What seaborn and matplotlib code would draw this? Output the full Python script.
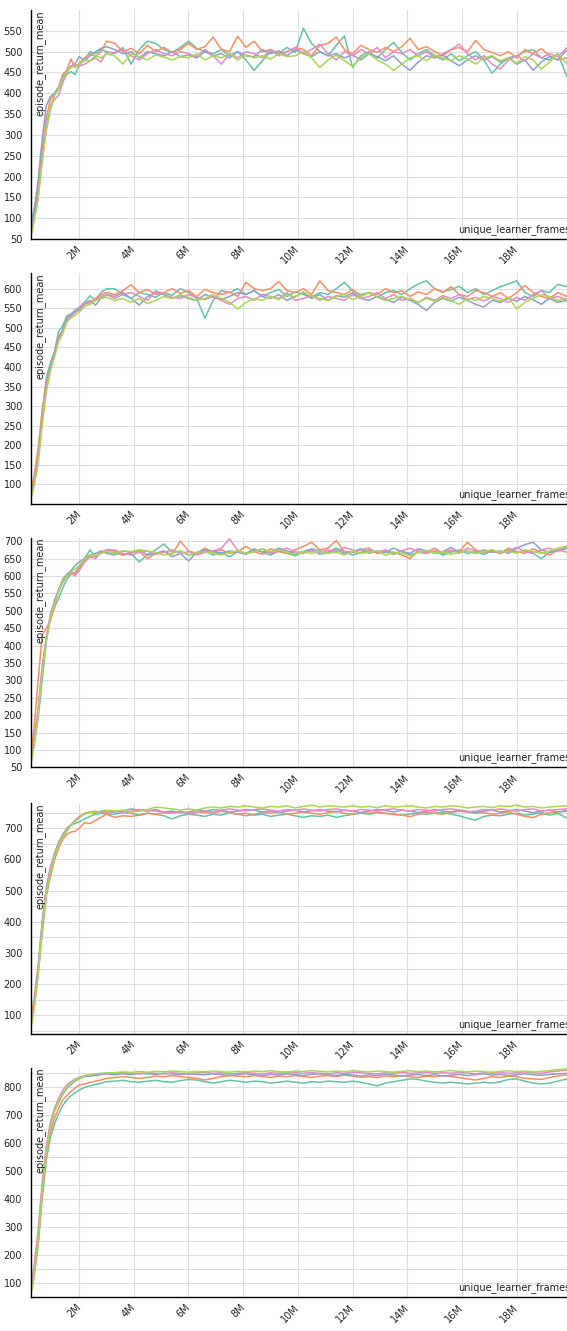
import numpy as np
import pandas as pd
import matplotlib
matplotlib.use("Agg")
import matplotlib.pyplot as plt
from matplotlib.ticker import FixedLocator, FuncFormatter
import seaborn as sns

# frames (in millions) shared by every run
x_millions = [0.23, 0.35, 0.5, 0.65, 0.8, 0.95, 1.1, 1.25, 1.4, 1.55, 1.7, 1.85, 2.0, 2.2, 2.4, 2.6, 2.8, 3.0,
              3.3, 3.6, 3.9, 4.2, 4.5, 4.8, 5.1, 5.4, 5.7, 6.0, 6.3, 6.6, 6.9, 7.2, 7.5, 7.8, 8.1, 8.4,
              8.7, 9.0, 9.3, 9.6, 9.9, 10.2, 10.5, 10.8, 11.1, 11.4, 11.7, 12.0, 12.3, 12.6, 12.9, 13.2,
              13.5, 13.8, 14.1, 14.4, 14.7, 15.0, 15.3, 15.6, 15.9, 16.2, 16.5, 16.8, 17.1, 17.4, 17.7,
              18.0, 18.3, 18.6, 18.9, 19.2, 19.5, 19.85]

# panel 1
p1_r1 = [80, 120, 160, 240, 310, 360, 395, 410, 430, 445, 452, 445, 468, 480, 500, 495, 505, 500,
         495, 510, 470, 505, 525, 520, 505, 498, 510, 525, 508, 500, 495, 505, 490, 500, 480, 455, 478, 500,
         495, 510, 498, 556, 520, 500, 490, 515, 538, 462, 490, 500, 485, 505, 522, 498, 480, 495, 505, 490,
         480, 495, 478, 490, 500, 480, 448, 470, 485, 490, 500, 505, 485, 480, 495, 438]
p1_r2 = [70, 105, 175, 265, 340, 385, 400, 415, 445, 455, 482, 462, 472, 485, 495, 488, 500, 525,
         520, 500, 508, 495, 515, 500, 510, 498, 505, 520, 505, 512, 535, 505, 500, 537, 510, 525, 500, 505,
         495, 500, 510, 505, 490, 515, 520, 535, 505, 495, 515, 505, 498, 510, 500, 512, 532, 505, 512, 500,
         490, 505, 510, 500, 527, 505, 498, 490, 500, 485, 505, 495, 507, 490, 480, 485]
p1_r3 = [65, 115, 190, 290, 370, 392, 400, 412, 440, 452, 465, 470, 488, 478, 490, 500, 508, 512,
         505, 495, 500, 485, 500, 495, 490, 500, 488, 492, 485, 500, 490, 495, 485, 500, 490, 488, 505, 495,
         502, 490, 505, 495, 488, 500, 490, 495, 485, 492, 480, 495, 488, 478, 490, 470, 455, 475, 490, 485,
         492, 478, 466, 480, 490, 480, 488, 475, 485, 470, 480, 455, 475, 488, 480, 505]
p1_r4 = [60, 95, 150, 240, 320, 370, 385, 395, 425, 450, 465, 470, 465, 470, 478, 485, 475, 498,
         498, 505, 490, 480, 495, 505, 495, 490, 500, 495, 488, 505, 490, 470, 495, 485, 500, 495, 485, 505,
         490, 500, 510, 495, 505, 518, 495, 480, 500, 490, 505, 495, 510, 485, 500, 495, 505, 490, 500, 485,
         495, 505, 518, 495, 480, 490, 470, 458, 480, 490, 478, 495, 485, 495, 488, 510]
p1_r5 = [55, 90, 145, 235, 315, 368, 395, 410, 435, 452, 462, 465, 470, 480, 478, 490, 485, 495,
         490, 470, 495, 488, 480, 492, 487, 480, 488, 485, 495, 480, 490, 485, 495, 480, 492, 485, 490, 482,
         495, 488, 490, 500, 485, 462, 480, 492, 478, 465, 485, 495, 480, 470, 455, 470, 485, 490, 478, 492,
         485, 478, 490, 482, 470, 485, 490, 478, 485, 472, 488, 480, 458, 475, 495, 470]

# panel 2
p2_r1 = [75, 110, 175, 280, 372, 410, 440, 490, 505, 530, 535, 545, 552, 565, 582, 570, 590, 600,
         600, 585, 575, 590, 585, 578, 590, 583, 600, 590, 575, 525, 570, 595, 590, 600, 585, 595, 580, 590,
         598, 580, 592, 585, 578, 590, 585, 600, 616, 595, 585, 590, 578, 590, 595, 585, 600, 612, 620, 600,
         592, 598, 606, 590, 600, 585, 595, 605, 612, 620, 590, 580, 595, 590, 611, 605]
p2_r2 = [85, 120, 190, 290, 360, 400, 430, 480, 490, 515, 530, 540, 548, 560, 565, 575, 585, 590,
         585, 595, 610, 590, 598, 585, 590, 600, 588, 595, 580, 598, 590, 585, 592, 580, 616, 600, 595, 600,
         618, 595, 590, 600, 585, 620, 595, 590, 585, 598, 580, 590, 585, 600, 590, 595, 580, 592, 585, 600,
         590, 605, 585, 580, 595, 590, 580, 590, 575, 590, 608, 590, 580, 575, 590, 580]
p2_r3 = [70, 105, 170, 270, 350, 400, 435, 475, 495, 525, 535, 540, 545, 562, 570, 558, 575, 585,
         580, 590, 575, 558, 580, 590, 585, 575, 582, 575, 570, 585, 578, 572, 580, 590, 585, 595, 580, 575,
         585, 570, 580, 590, 575, 585, 570, 582, 578, 590, 575, 570, 580, 572, 565, 578, 570, 560, 544, 565,
         575, 568, 578, 570, 560, 553, 570, 565, 575, 568, 580, 572, 560, 575, 565, 570]
p2_r4 = [65, 100, 160, 265, 345, 395, 430, 470, 490, 520, 530, 538, 550, 565, 560, 570, 580, 585,
         575, 585, 590, 580, 570, 595, 585, 578, 575, 585, 578, 572, 580, 570, 560, 575, 580, 570, 585, 580,
         575, 590, 570, 575, 582, 570, 580, 575, 570, 585, 575, 580, 590, 575, 585, 570, 575, 565, 578, 570,
         582, 575, 585, 572, 578, 568, 580, 575, 565, 578, 570, 585, 595, 575, 580, 572]
p2_r5 = [60, 95, 150, 250, 335, 390, 425, 465, 485, 515, 525, 532, 540, 555, 560, 570, 575, 578,
         570, 575, 565, 575, 562, 570, 580, 575, 585, 578, 570, 575, 585, 575, 565, 548, 565, 575, 570, 580,
         572, 585, 578, 592, 580, 575, 570, 580, 585, 572, 580, 590, 578, 570, 575, 580, 572, 565, 575, 568,
         578, 570, 560, 575, 570, 580, 575, 568, 578, 548, 565, 575, 585, 580, 570, 575]

# panel 3
p3_r1 = [60, 110, 190, 300, 410, 480, 510, 535, 565, 590, 605, 610, 625, 650, 675, 655, 670, 668,
         668, 660, 665, 640, 662, 675, 692, 668, 672, 660, 665, 672, 660, 668, 655, 670, 665, 678, 668, 660,
         672, 665, 658, 670, 675, 662, 668, 680, 670, 660, 668, 675, 665, 670, 662, 672, 660, 668, 665, 672,
         660, 668, 675, 665, 670, 662, 672, 665, 675, 668, 672, 665, 650, 668, 675, 680]
p3_r2 = [80, 160, 300, 430, 450, 470, 510, 560, 585, 600, 612, 605, 620, 645, 655, 660, 665, 675,
         672, 660, 668, 670, 650, 665, 670, 662, 700, 672, 665, 680, 668, 675, 665, 670, 685, 670, 662, 678,
         670, 665, 675, 685, 697, 675, 680, 702, 670, 668, 675, 680, 665, 672, 668, 660, 650, 672, 668, 680,
         665, 672, 670, 697, 675, 668, 672, 665, 680, 670, 665, 678, 668, 660, 675, 668]
p3_r3 = [65, 120, 210, 330, 420, 490, 530, 560, 590, 605, 615, 630, 640, 650, 660, 665, 672, 665,
         660, 672, 668, 675, 660, 665, 672, 655, 665, 643, 668, 675, 670, 665, 672, 668, 662, 675, 670, 668,
         680, 672, 665, 670, 678, 672, 668, 675, 665, 670, 678, 665, 672, 668, 680, 670, 665, 678, 672, 665,
         670, 682, 668, 672, 665, 675, 668, 672, 665, 680, 690, 697, 675, 668, 672, 680]
p3_r4 = [62, 125, 220, 340, 425, 485, 520, 555, 580, 600, 608, 600, 615, 640, 655, 650, 668, 675,
         675, 665, 660, 668, 672, 662, 668, 675, 665, 670, 660, 668, 672, 680, 707, 672, 665, 670, 678, 665,
         672, 680, 670, 665, 672, 668, 675, 670, 682, 675, 665, 672, 668, 675, 665, 672, 680, 670, 665, 672,
         668, 675, 665, 680, 672, 668, 675, 665, 672, 682, 670, 665, 675, 680, 670, 688]
p3_r5 = [55, 115, 200, 320, 415, 478, 520, 555, 585, 600, 612, 620, 630, 648, 662, 660, 665, 670,
         665, 672, 670, 675, 672, 668, 660, 665, 672, 660, 668, 670, 665, 660, 668, 672, 665, 670, 678, 670,
         675, 668, 662, 670, 665, 672, 665, 668, 660, 672, 665, 668, 672, 660, 668, 665, 658, 668, 672, 665,
         670, 662, 668, 672, 665, 670, 675, 668, 672, 665, 675, 670, 665, 672, 680, 685]

# panel 4
p4_r1 = [62, 120, 230, 360, 480, 545, 600, 640, 670, 690, 710, 715, 720, 730, 738, 745, 748, 745,
         745, 750, 748, 742, 748, 745, 740, 730, 740, 745, 742, 738, 745, 742, 750, 745, 748, 742, 745, 738,
         742, 745, 740, 735, 740, 738, 742, 735, 740, 745, 748, 745, 750, 748, 745, 742, 745, 748, 745, 748,
         750, 745, 740, 732, 726, 738, 742, 740, 745, 748, 742, 745, 750, 742, 748, 732]
p4_r2 = [95, 150, 260, 390, 490, 550, 600, 635, 665, 680, 688, 690, 700, 718, 715, 725, 735, 745,
         735, 740, 738, 742, 748, 745, 750, 748, 752, 748, 752, 750, 748, 755, 750, 745, 740, 745, 750, 748,
         752, 745, 748, 752, 748, 745, 750, 755, 748, 745, 750, 748, 752, 748, 745, 742, 737, 745, 750, 748,
         745, 750, 755, 752, 748, 750, 745, 748, 752, 745, 738, 734, 745, 750, 752, 755]
p4_r3 = [65, 130, 250, 400, 510, 575, 620, 655, 680, 700, 710, 722, 735, 745, 752, 748, 755, 752,
         752, 755, 762, 758, 755, 760, 752, 755, 750, 752, 758, 755, 760, 757, 752, 755, 760, 758, 752, 755,
         750, 755, 758, 752, 756, 760, 755, 752, 758, 755, 750, 755, 760, 757, 752, 758, 755, 750, 755, 760,
         755, 752, 758, 755, 750, 755, 758, 752, 755, 760, 755, 750, 755, 758, 752, 756]
p4_r4 = [60, 125, 240, 395, 505, 570, 615, 650, 675, 700, 712, 725, 738, 748, 752, 755, 750, 748,
         755, 750, 755, 760, 758, 755, 752, 748, 755, 745, 750, 755, 752, 758, 762, 758, 755, 760, 762, 758,
         755, 760, 757, 762, 758, 755, 760, 762, 758, 755, 760, 758, 755, 760, 762, 758, 755, 760, 758, 755,
         760, 762, 758, 752, 755, 760, 758, 762, 758, 755, 760, 762, 755, 758, 760, 762]
p4_r5 = [55, 115, 225, 375, 490, 560, 610, 645, 672, 695, 710, 722, 732, 748, 752, 750, 755, 758,
         755, 758, 752, 755, 760, 768, 765, 762, 758, 762, 758, 765, 768, 765, 770, 768, 772, 768, 765, 770,
         768, 772, 765, 770, 774, 768, 772, 770, 768, 772, 768, 770, 766, 772, 768, 770, 772, 768, 765, 770,
         768, 772, 770, 765, 768, 770, 766, 772, 770, 774, 768, 770, 765, 768, 770, 772]

# panel 5
p5_r1 = [62, 120, 230, 400, 540, 620, 670, 705, 735, 755, 770, 780, 790, 800, 805, 810, 815, 820,
         822, 825, 820, 818, 822, 825, 820, 818, 824, 828, 826, 820, 815, 820, 825, 822, 818, 822, 820, 815,
         818, 822, 818, 815, 820, 818, 822, 820, 818, 822, 818, 812, 805, 815, 820, 825, 830, 828, 822, 818,
         815, 818, 815, 812, 815, 818, 815, 820, 828, 830, 822, 815, 812, 815, 822, 830]
p5_r2 = [70, 130, 245, 420, 560, 640, 690, 725, 755, 770, 785, 798, 808, 812, 818, 822, 826, 832,
         835, 838, 835, 832, 835, 840, 838, 842, 838, 835, 832, 826, 832, 838, 842, 840, 838, 842, 838, 835,
         840, 838, 842, 838, 835, 840, 842, 838, 844, 840, 836, 838, 835, 840, 838, 842, 838, 835, 840, 838,
         842, 838, 835, 830, 826, 832, 838, 835, 840, 838, 832, 830, 828, 835, 840, 845]
p5_r3 = [68, 140, 270, 445, 580, 665, 715, 745, 775, 795, 810, 822, 830, 838, 840, 842, 845, 848,
         845, 848, 845, 850, 848, 846, 850, 848, 845, 848, 846, 845, 848, 845, 842, 846, 848, 845, 842, 846,
         844, 848, 845, 842, 846, 848, 845, 842, 846, 844, 840, 845, 842, 846, 844, 840, 844, 846, 842, 845,
         840, 843, 846, 842, 845, 848, 844, 846, 842, 845, 848, 845, 843, 846, 848, 850]
p5_r4 = [90, 160, 290, 460, 590, 675, 725, 760, 790, 808, 820, 830, 835, 842, 845, 846, 848, 850,
         850, 852, 850, 848, 852, 850, 848, 852, 850, 848, 852, 854, 850, 852, 848, 850, 853, 850, 848, 852,
         850, 854, 852, 850, 853, 850, 848, 852, 850, 854, 852, 850, 848, 852, 850, 853, 850, 852, 854, 850,
         852, 850, 853, 851, 848, 852, 850, 853, 850, 852, 855, 852, 850, 855, 858, 862]
p5_r5 = [58, 125, 255, 430, 570, 660, 715, 750, 780, 800, 815, 825, 832, 840, 845, 848, 850, 852,
         852, 855, 853, 856, 854, 857, 855, 858, 856, 854, 857, 855, 858, 856, 854, 857, 855, 858, 856, 859,
         856, 854, 858, 856, 860, 857, 855, 858, 856, 859, 857, 855, 858, 856, 854, 857, 859, 856, 858, 855,
         857, 860, 857, 855, 858, 856, 854, 857, 859, 856, 858, 855, 857, 860, 863, 866]

y_ranges = [(50, 600), (50, 640), (50, 710), (40, 780), (50, 870)]
y_major = [list(range(50, 551, 50)), list(range(100, 601, 50)), list(range(50, 701, 50)),
           list(range(100, 701, 100)), list(range(100, 801, 100))]
y_minor = [[], [], [], list(range(50, 751, 100)), list(range(50, 851, 100))]
x_ticks_m = [2, 4, 6, 8, 10, 12, 14, 16, 18]

run_colors = ["#66c2a5", "#fc8d62", "#8da0cb", "#e78ac3", "#a6d854"]
panels = [[p1_r1, p1_r2, p1_r3, p1_r4, p1_r5],
          [p2_r1, p2_r2, p2_r3, p2_r4, p2_r5],
          [p3_r1, p3_r2, p3_r3, p3_r4, p3_r5],
          [p4_r1, p4_r2, p4_r3, p4_r4, p4_r5],
          [p5_r1, p5_r2, p5_r3, p5_r4, p5_r5]]

sns.set_style("white")
plt.rcParams['font.family'] = ['DejaVu Sans']

W, H = 567, 1331
fig = plt.figure(figsize=(W / 100, H / 100), dpi=100)

# pixel boxes of the five panels (top, bottom)
tops = [10, 273, 537.7, 803.3, 1067.7]
bottoms = [239, 504, 767.3, 1034, 1297.3]
left, right = 30.7, 567
text_col = "#222222"

for i, runs in enumerate(panels):
    ax = fig.add_axes([left / W, 1 - bottoms[i] / H, (right - left) / W, (bottoms[i] - tops[i]) / H])
    frames = []
    for k, r in enumerate(runs):
        frames.append(pd.DataFrame({"unique_learner_frames": np.array(x_millions) * 1e6,
                                    "episode_return_mean": r,
                                    "run": f"run{k + 1}"}))
    df = pd.concat(frames, ignore_index=True)
    sns.lineplot(data=df, x="unique_learner_frames", y="episode_return_mean", hue="run",
                 palette=run_colors, estimator=None, legend=False, linewidth=1.1, ax=ax)

    ax.set_xlim(0.23e6, 19.84e6)
    ax.set_ylim(*y_ranges[i])
    ax.xaxis.set_major_locator(FixedLocator([m * 1e6 for m in x_ticks_m]))
    ax.xaxis.set_major_formatter(FuncFormatter(lambda v, p: f"{int(round(v / 1e6))}M"))
    ax.yaxis.set_major_locator(FixedLocator(y_major[i]))
    if y_minor[i]:
        ax.yaxis.set_minor_locator(FixedLocator(y_minor[i]))

    ax.grid(True, which="both", color="#dedede", linewidth=0.8)
    ax.set_axisbelow(True)
    for s in ["top", "right"]:
        ax.spines[s].set_visible(False)
    for s in ["left", "bottom"]:
        ax.spines[s].set_color("black")
        ax.spines[s].set_linewidth(1.0)

    ax.tick_params(axis="both", which="major", direction="out", length=3.6, width=0.8,
                   color="black", labelsize=7, labelcolor=text_col, pad=2.5)
    ax.tick_params(axis="y", which="minor", length=0)
    for lab in ax.get_xticklabels():
        lab.set_rotation(45)
        lab.set_ha("right")
        lab.set_va("center")
        lab.set_rotation_mode("anchor")

    ax.set_xlabel("")
    ax.set_ylabel("")
    ax.text(0.0173, 1.0, "episode_return_mean", transform=ax.transAxes, rotation=90,
            ha="center", va="top", fontsize=7, color=text_col)
    ax.text(0.797, 0.032, "unique_learner_frames", transform=ax.transAxes,
            ha="left", va="baseline", fontsize=7, color=text_col, clip_on=False)

fig.savefig("out.png", dpi=100)
